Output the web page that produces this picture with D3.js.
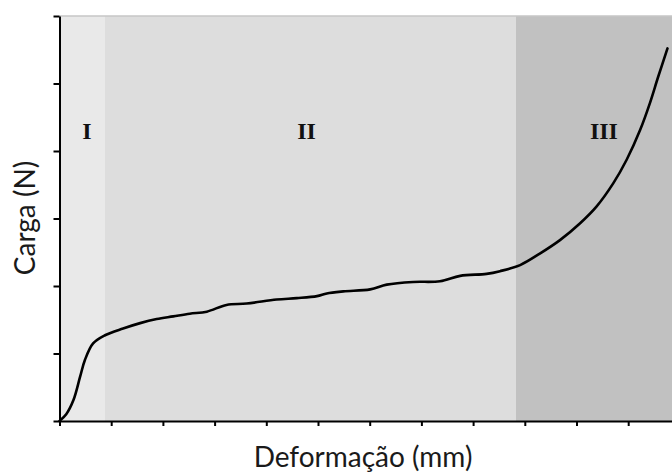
<!DOCTYPE html>
<html>
<head>
<meta charset="utf-8">
<script src="https://cdn.jsdelivr.net/npm/d3@7"></script>
<style>
  html, body { margin: 0; padding: 0; background: #fff; }
  svg { display: block; }
</style>
</head>
<body>
<div id="chart"></div>
<script>
// data (x = deformação, y = carga, arbitrary units)
const deform = [0, 0.13, 0.27, 0.4, 0.49, 0.65, 0.88, 1.23, 1.56, 1.88, 2.2, 2.52, 2.85, 3.23, 3.62, 4.2, 4.59, 4.98, 5.17, 5.49, 6.01, 6.33, 6.84, 7.36, 7.75, 8.26, 8.52, 8.91, 9.29, 9.68, 10.07, 10.39, 10.71, 10.97, 11.23, 11.42, 11.58, 11.76];
const carga  = [0, 0.1, 0.31, 0.66, 0.9, 1.15, 1.27, 1.37, 1.45, 1.51, 1.55, 1.59, 1.62, 1.72, 1.74, 1.8, 1.82, 1.85, 1.89, 1.92, 1.95, 2.02, 2.06, 2.07, 2.15, 2.18, 2.22, 2.31, 2.48, 2.68, 2.93, 3.18, 3.52, 3.87, 4.31, 4.71, 5.1, 5.52];

const regionNames = ['I', 'II', 'III'];
const regionStart = [0, 0.88, 8.83];
const regionEnd   = [0.88, 8.83, 12];
const regionLabelX = [0.53, 4.78, 10.53];
const regionLabelY = 4.29;

const xTicks = d3.range(0, 13, 1);
const yTicks = d3.range(0, 7, 1);

const W = 672, H = 473;
const x = d3.scaleLinear().domain([0, 12]).range([59.5, 679.9]);
const y = d3.scaleLinear().domain([0, 6]).range([421, 16]);

const svg = d3.select('#chart').append('svg')
  .attr('width', W).attr('height', H);

const regionFill = ['#e9e9e9', '#dddddd', '#c1c1c1'];
svg.append('g').selectAll('rect').data(regionNames).enter().append('rect')
  .attr('x', (d, i) => x(regionStart[i]))
  .attr('y', y(6))
  .attr('width', (d, i) => x(regionEnd[i]) - x(regionStart[i]))
  .attr('height', y(0) - y(6))
  .attr('fill', (d, i) => regionFill[i]);

// top border
svg.append('line')
  .attr('x1', x(0)).attr('x2', W)
  .attr('y1', y(6)).attr('y2', y(6))
  .attr('stroke', '#c6c6c6').attr('stroke-width', 1.5);

svg.append('g').selectAll('text').data(regionNames).enter().append('text')
  .attr('x', (d, i) => x(regionLabelX[i]))
  .attr('y', y(regionLabelY))
  .attr('text-anchor', 'middle')
  .attr('dominant-baseline', 'central')
  .attr('font-family', '"Liberation Serif", "DejaVu Serif", serif')
  .attr('font-weight', 'bold')
  .attr('font-size', 24)
  .attr('fill', '#111')
  .text(d => d);

const pts = deform.map((d, i) => [d, carga[i]]);
const line = d3.line()
  .x(d => x(d[0]))
  .y(d => y(d[1]))
  .curve(d3.curveCatmullRom.alpha(0.5));

svg.append('path')
  .datum(pts)
  .attr('d', line)
  .attr('fill', 'none')
  .attr('stroke', '#000')
  .attr('stroke-width', 2.6)
  .attr('stroke-linejoin', 'round')
  .attr('stroke-linecap', 'round');

const xAxis = svg.append('g')
  .attr('transform', `translate(0,${y(0)})`)
  .call(d3.axisBottom(x).tickValues(xTicks).tickFormat('').tickSize(5).tickSizeOuter(0));
const yAxis = svg.append('g')
  .attr('transform', `translate(${x(0)},0)`)
  .call(d3.axisLeft(y).tickValues(yTicks).tickFormat('').tickSize(6).tickSizeOuter(0));
[xAxis, yAxis].forEach(a => {
  a.select('.domain').attr('stroke', '#000').attr('stroke-width', 2);
  a.selectAll('.tick line').attr('stroke', '#000').attr('stroke-width', 2);
});

svg.append('text')
  .attr('x', 363).attr('y', 467)
  .attr('text-anchor', 'middle')
  .attr('font-family', 'Lato, "Open Sans", sans-serif')
  .attr('font-size', 28)
  .attr('fill', '#1a1a1a')
  .text('Deformação (mm)');

svg.append('text')
  .attr('transform', 'translate(35,218) rotate(-90)')
  .attr('text-anchor', 'middle')
  .attr('font-family', 'Lato, "Open Sans", sans-serif')
  .attr('font-size', 28)
  .attr('fill', '#1a1a1a')
  .text('Carga (N)');
</script>
</body>
</html>
